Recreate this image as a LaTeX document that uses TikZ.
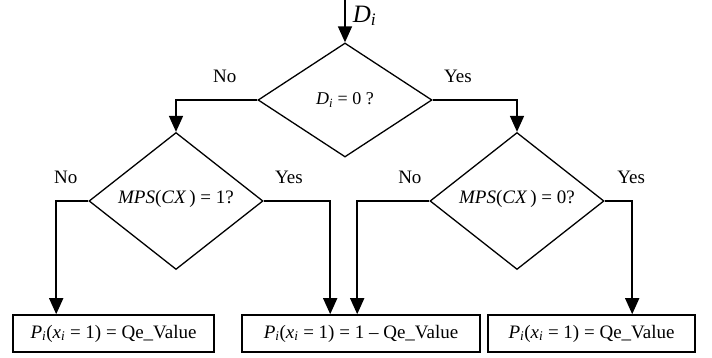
\documentclass[tikz,border=0pt]{standalone}
\usepackage{fontspec}
\setmainfont{Liberation Serif}
\usetikzlibrary{shapes.geometric,arrows.meta}

\newcommand{\isub}[1]{\textsubscript{\textit{#1}}}
\newcommand{\fs}[1]{\fontsize{#1}{#1}\selectfont}

\tikzset{
    test/.style={diamond, draw, line width=1.3pt, minimum width=174pt, minimum height=114pt, inner sep=0pt, font=\fs{19}},
    result/.style={rectangle, draw, line width=1.6pt, minimum height=37pt, inner sep=0pt, font=\fs{19}},
    flow/.style={line width=1.6pt, -{Triangle[width=14pt,length=16pt]}},
    answer/.style={font=\fs{19}, inner sep=0pt, yshift=24pt}
}

\begin{document}
\begin{tikzpicture}[x=1pt,y=-1pt]
    \useasboundingbox (0,0) rectangle (712,358);
    \path node[test, font=\fs{18}] (D1) at (345,100) {\textit{D}\isub{i} = 0 ?}
        node[test] (D2) at (176,201) {\raisebox{8pt}{\textit{MPS}(\textit{CX}\,) = 1?}}
        node[test] (D3) at (517,201) {\raisebox{8pt}{\textit{MPS}(\textit{CX}\,) = 0?}}
        node[result, minimum width=201pt] (B1) at (113.5,333.5) {\textit{P}\isub{i}(\textit{x}\isub{i} = 1) = Qe\_Value}
        node[result, minimum width=238pt] (B2) at (361,333.5) {\textit{P}\isub{i}(\textit{x}\isub{i} = 1) = 1 – Qe\_Value}
        node[result, minimum width=207pt] (B3) at (591.5,333.5) {\textit{P}\isub{i}(\textit{x}\isub{i} = 1) = Qe\_Value};
    \coordinate (in) at (345,0);
    \draw[flow] (in) -- node[pos=0.52, anchor=base west, xshift=7pt, inner sep=0pt, font=\fs{25}] (Dlbl) {\textit{D}\isub{i}} (D1);
    \draw[flow] (D1.west) -| node[answer, pos=0.2] (n1) {No} (D2.north);
    \draw[flow] (D1.east) -| node[answer, pos=0.15] (y1) {Yes} (D3.north);
    \draw[flow] (D2.west) -| node[answer, pos=0.35] (n2) {No} ([xshift=44pt]B1.north west);
    \draw[flow] (D2.east) -| node[answer, pos=0.19] (y2) {Yes} ([xshift=89pt]B2.north west);
    \draw[flow] (D3.west) -| node[answer, pos=0.135] (n3) {No} ([xshift=116pt]B2.north west);
    \draw[flow] (D3.east) -| node[answer, pos=0.48] (y3) {Yes} ([xshift=145pt]B3.north west);
\end{tikzpicture}
\end{document}
